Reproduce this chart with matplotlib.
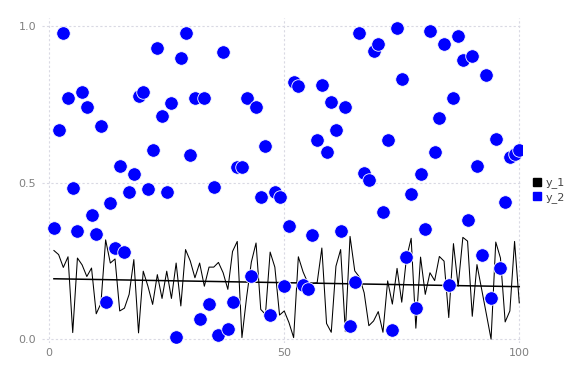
import numpy as np
import matplotlib
matplotlib.use("Agg")
import matplotlib.pyplot as plt
from matplotlib.lines import Line2D

# x positions shared by both series
x = np.arange(1, 101)

# y_1 : noisy line
y_1 = [0.283, 0.27, 0.229, 0.263, 0.021, 0.259, 0.237, 0.2, 0.227, 0.081,
       0.114, 0.317, 0.243, 0.256, 0.09, 0.099, 0.143, 0.254, 0.02, 0.217,
       0.169, 0.111, 0.206, 0.13, 0.217, 0.13, 0.243, 0.106, 0.286, 0.25,
       0.196, 0.243, 0.169, 0.23, 0.23, 0.245, 0.212, 0.159, 0.28, 0.312,
       0.005, 0.135, 0.246, 0.307, 0.095, 0.079, 0.278, 0.23, 0.077, 0.09,
       0.053, 0.005, 0.263, 0.215, 0.18, 0.178, 0.18, 0.291, 0.05, 0.022,
       0.233, 0.286, 0.024, 0.328, 0.218, 0.198, 0.148, 0.043, 0.058, 0.088,
       0.022, 0.186, 0.112, 0.226, 0.118, 0.259, 0.322, 0.035, 0.262, 0.143,
       0.212, 0.187, 0.264, 0.249, 0.069, 0.305, 0.169, 0.325, 0.313, 0.073,
       0.238, 0.159, 0.08, 0.0, 0.31, 0.259, 0.055, 0.09, 0.312, 0.116]

# y_2 : scatter points
y_2 = [0.356, 0.667, 0.978, 0.771, 0.483, 0.346, 0.79, 0.74, 0.397, 0.337,
       0.679, 0.12, 0.435, 0.292, 0.552, 0.279, 0.47, 0.527, 0.775, 0.79,
       0.48, 0.603, 0.93, 0.711, 0.471, 0.755, 0.007, 0.897, 0.977, 0.587,
       0.771, 0.064, 0.769, 0.113, 0.486, 0.013, 0.918, 0.034, 0.12, 0.549,
       0.549, 0.77, 0.203, 0.742, 0.455, 0.617, 0.076, 0.469, 0.453, 0.169,
       0.36, 0.822, 0.808, 0.172, 0.159, 0.331, 0.635, 0.812, 0.598, 0.757,
       0.668, 0.345, 0.74, 0.042, 0.183, 0.979, 0.532, 0.507, 0.921, 0.942,
       0.405, 0.635, 0.029, 0.995, 0.83, 0.261, 0.463, 0.1, 0.527, 0.352,
       0.984, 0.598, 0.707, 0.942, 0.173, 0.769, 0.969, 0.89, 0.381, 0.905,
       0.552, 0.268, 0.844, 0.132, 0.639, 0.228, 0.439, 0.582, 0.59, 0.603]

labels = ["y_1", "y_2"]
xticks = [0, 50, 100]
yticks = [0.0, 0.5, 1.0]

# linear trend of y_1
coef = np.polyfit(x, y_1, 1)
trend = np.polyval(coef, x)

fig = plt.figure(figsize=(5.76, 3.84), dpi=100)
ax = fig.add_axes([0.0724, 0.107, 0.834, 0.845])

ax.plot(x, y_1, color="black", lw=0.75, zorder=2)
ax.plot(x, trend, color="black", lw=1.1, zorder=2)
ax.scatter(x, y_2, s=95, color="#0000ff", edgecolors="white", linewidths=0.6, zorder=3)

ax.set_xlim(-1.6, 100.6)
ax.set_ylim(-0.012, 1.024)
ax.set_xticks(xticks)
ax.set_yticks(yticks)
ax.set_xticklabels([str(t) for t in xticks])
ax.set_yticklabels(["%.1f" % t for t in yticks])

ax.grid(True, color="#d9d9e3", lw=0.8, linestyle=(0, (2, 2)))
ax.set_axisbelow(True)
for s in ax.spines.values():
    s.set_visible(False)
ax.tick_params(length=0, labelsize=8, labelcolor="#808080", pad=4)

handles = [Line2D([], [], marker="s", ls="", color="black", markersize=5.5),
           Line2D([], [], marker="s", ls="", color="#0000ff", markersize=5.5)]
fig.legend(handles, labels, loc="center left", bbox_to_anchor=(0.91, 0.505),
           frameon=False, fontsize=8, handlelength=0.6, handletextpad=0.4,
           labelspacing=0.3, labelcolor="#444444")

fig.savefig("out.png", dpi=100)
